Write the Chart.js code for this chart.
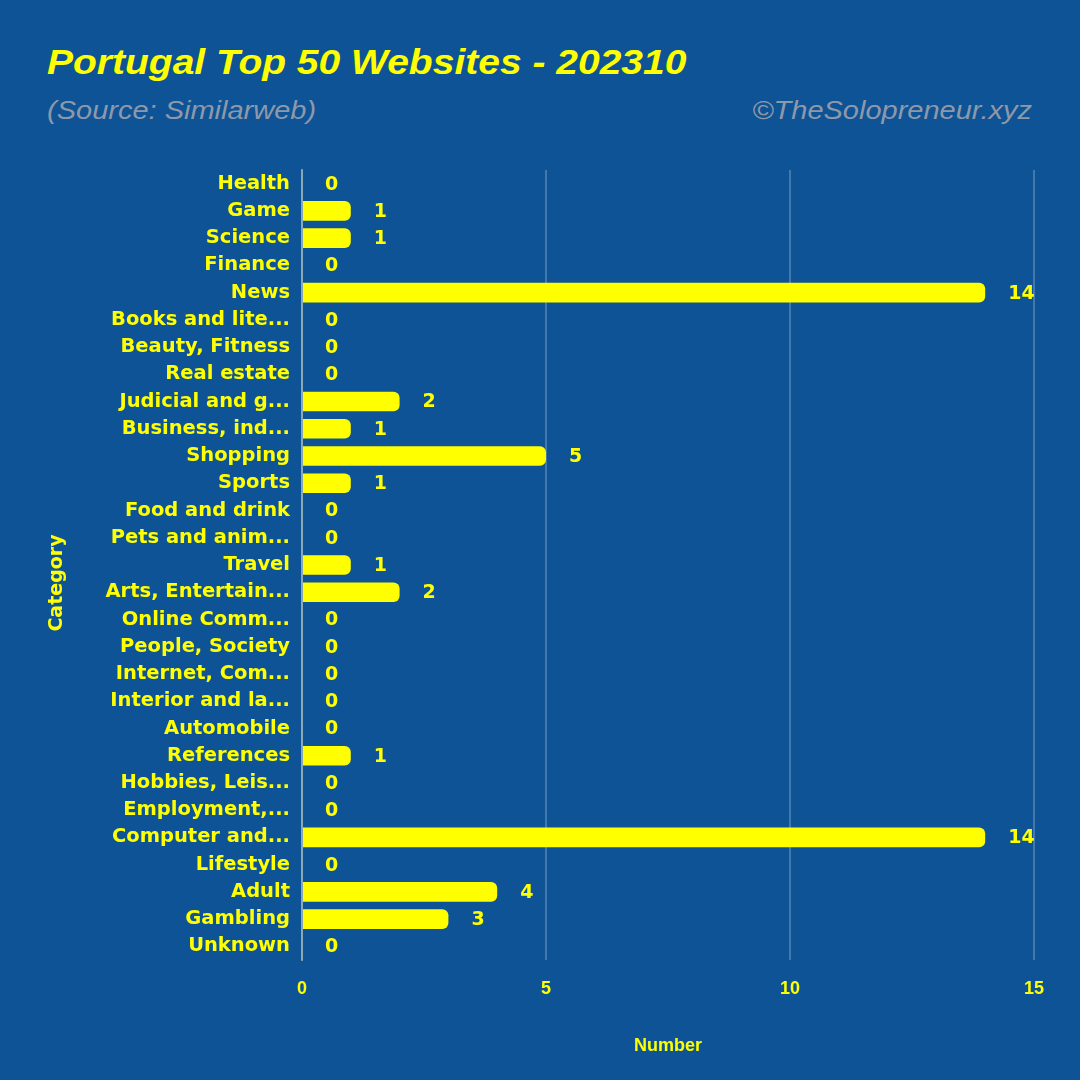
<!DOCTYPE html>
<html>
<head>
<meta charset="utf-8">
<script src="https://cdn.jsdelivr.net/npm/chart.js@4"></script>
<style>
  html, body { margin: 0; padding: 0; background: #0d5395; }
  #wrap { position: relative; width: 1080px; height: 1080px; }
  #title { position: absolute; left: 47px; top: 42px; color: #ffff00;
    font: italic bold 39px "Liberation Sans", Arial, sans-serif; transform: scaleY(0.92); transform-origin: left top; }
  .sub { position: absolute; top: 96px; color: #8d99aa;
    font: italic 29px "Liberation Sans", Arial, sans-serif; transform: scaleY(0.9); }
  #src { left: 47px; transform-origin: left top; }
  #credit { right: 48px; transform-origin: right top; }
  canvas { position: absolute; left: 0; top: 0; }
</style>
</head>
<body>
<div id="wrap">
  <div id="title">Portugal Top 50 Websites - 202310</div>
  <div class="sub" id="src">(Source: Similarweb)</div>
  <div class="sub" id="credit">©TheSolopreneur.xyz</div>
  <canvas id="chart" width="1080" height="1080"></canvas>
</div>
<script>
const categories = [
  "Health", "Game", "Science", "Finance", "News", "Books and lite...",
  "Beauty, Fitness", "Real estate", "Judicial and g...", "Business, ind...",
  "Shopping", "Sports", "Food and drink", "Pets and anim...", "Travel",
  "Arts, Entertain...", "Online Comm...", "People, Society", "Internet, Com...",
  "Interior and la...", "Automobile", "References", "Hobbies, Leis...",
  "Employment,...", "Computer and...", "Lifestyle", "Adult", "Gambling", "Unknown"
];
const counts = [0, 1, 1, 0, 14, 0, 0, 0, 2, 1, 5, 1, 0, 0, 1, 2, 0, 0, 0, 0, 0, 1, 0, 0, 14, 0, 4, 3, 0];
const xTicks = [0, 5, 10, 15];

const yellow = "#ffff00";
const wideFont = { family: "'DejaVu Sans', Verdana, sans-serif", size: 19.5, weight: "bold" };
const narrowFont = { family: "'Liberation Sans', Arial, sans-serif", size: 18, weight: "bold" };

// value next to each bar + the y axis title
const extras = {
  id: "extras",
  afterDatasetsDraw(chart) {
    const ctx = chart.ctx;
    const meta = chart.getDatasetMeta(0);
    ctx.save();
    ctx.fillStyle = yellow;
    ctx.font = "bold 19px 'DejaVu Sans', Verdana, sans-serif";
    ctx.textAlign = "left";
    ctx.textBaseline = "middle";
    meta.data.forEach((bar, i) => {
      ctx.fillText(String(counts[i]), bar.x + 23, bar.y + 1);
    });
    ctx.translate(57, 583);
    ctx.rotate(-Math.PI / 2);
    ctx.textAlign = "center";
    ctx.font = "bold 19px 'DejaVu Sans', Verdana, sans-serif";
    ctx.fillText("Category", 0, 0);
    ctx.restore();
  }
};

new Chart(document.getElementById("chart"), {
  type: "bar",
  data: {
    labels: categories,
    datasets: [{
      data: counts,
      backgroundColor: yellow,
      borderRadius: { topRight: 6, bottomRight: 6 },
      borderSkipped: false,
      barPercentage: 0.9,
      categoryPercentage: 0.8
    }]
  },
  options: {
    indexAxis: "y",
    responsive: false,
    animation: false,
    layout: { padding: { top: 170, right: 46, bottom: 20, left: 42 } },
    plugins: { legend: { display: false }, tooltip: { enabled: false } },
    scales: {
      x: {
        min: 0,
        max: 15,
        afterBuildTicks(scale) { scale.ticks = xTicks.map(v => ({ value: v })); },
        afterFit(scale) { scale.height = 100; },
        grid: { color: "rgba(255,255,255,0.22)", lineWidth: 2, drawTicks: false },
        border: { display: false },
        ticks: { color: yellow, font: narrowFont, padding: 18 },
        title: { display: true, text: "Number", color: yellow, font: narrowFont, padding: { top: 4, bottom: 3 } }
      },
      y: {
        afterFit(scale) { scale.width = 260; },
        grid: { display: false, drawTicks: false },
        border: { display: true, color: "rgba(200,210,190,0.55)", width: 2 },
        ticks: { color: yellow, font: wideFont, padding: 12, autoSkip: false },
        title: { display: false }
      }
    }
  },
  plugins: [extras]
});
</script>
</body>
</html>
